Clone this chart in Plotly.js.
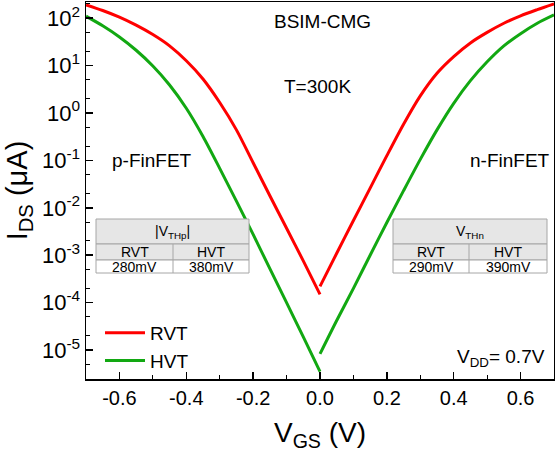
<!DOCTYPE html>
<html><head><meta charset="utf-8">
<script src="https://cdn.plot.ly/plotly-3.0.1.min.js"></script>
<style>body{margin:0;padding:0;background:#fff}#c{width:555px;height:455px}</style>
</head><body><div id="c"></div>
<script>
// ---- data ----
const vgsP = [-0.70,-0.65,-0.60,-0.55,-0.50,-0.45,-0.40,-0.35,-0.30,-0.25,-0.20,-0.15,-0.10,-0.05,0.00];
const vgsN = [0.00,0.05,0.10,0.15,0.20,0.25,0.30,0.35,0.40,0.45,0.50,0.55,0.60,0.65,0.70];
const rvtP = [190,145,105,71,45,26,12.6,5.2,1.66,0.44,0.089,0.018,3.7e-3,7.6e-4,1.5e-4];
const rvtN = [2.2e-4,1.1e-3,5.4e-3,0.026,0.126,0.58,2.3,6.9,15.5,30,50,78,112,151,200];
const hvtP = [110,69,40,21,9.8,3.9,1.26,0.32,0.068,0.0138,2.75e-3,5.2e-4,1.0e-4,1.9e-5,3.5e-6];
const hvtN = [8.3e-6,4.2e-5,2.0e-4,1.0e-3,4.9e-3,0.023,0.105,0.44,1.6,4.8,12,26,47,78,117];
const seriesNames = ['RVT','HVT'];
const xTickVals = [-0.6,-0.4,-0.2,0.0,0.2,0.4,0.6];
const xTickText = ['-0.6','-0.4','-0.2','0.0','0.2','0.4','0.6'];
const yTickVals = [1e-5,1e-4,1e-3,1e-2,1e-1,1e0,1e1,1e2];
const yTickText = ['10<sup>-5</sup>','10<sup>-4</sup>','10<sup>-3</sup>','10<sup>-2</sup>','10<sup>-1</sup>','10<sup>0</sup>','10<sup>1</sup>','10<sup>2</sup>'];
const pTableHead = '|V<sub>THp</sub>|';
const nTableHead = 'V<sub>THn</sub>';
const tableCols = ['RVT','HVT'];
const pVth = ['280mV','380mV'];
const nVth = ['290mV','390mV'];

// ---- layout geometry ----
const W = 555, Hh = 455, mL = 86, mR = 1, mT = 2, mB = 76;
const PW = W - mL - mR, PH = Hh - mT - mB;
const px = x => (x - mL) / PW;
const py = y => (Hh - mB - y) / PH;
const FONT = 'Liberation Sans, Arial, sans-serif';
const RED = '#ff0000', GREEN = '#12a812';

function join(a, b){ return a.concat([null], b); }

const traces = [
  {x: join(vgsP, vgsN), y: join(rvtP, rvtN), name: seriesNames[0], mode: 'lines',
   connectgaps: false, line: {color: RED, width: 3, shape: 'spline', smoothing: 0.8}},
  {x: join(vgsP, vgsN), y: join(hvtP, hvtN), name: seriesNames[1], mode: 'lines',
   connectgaps: false, line: {color: GREEN, width: 3, shape: 'spline', smoothing: 0.8}}
];

const shapes = [], annotations = [];
function table(x0, x1, xm, y0, y1, y2, y3, head, vals){
  const border = '#a6a6a6', fillH = '#e6e6e6';
  shapes.push({type:'rect', xref:'paper', yref:'paper', x0:px(x0), x1:px(x1), y0:py(y1), y1:py(y0), fillcolor:fillH, line:{color:border, width:1}, layer:'above'});
  shapes.push({type:'rect', xref:'paper', yref:'paper', x0:px(x0), x1:px(x1), y0:py(y2), y1:py(y1), fillcolor:fillH, line:{color:border, width:1}, layer:'above'});
  shapes.push({type:'rect', xref:'paper', yref:'paper', x0:px(x0), x1:px(x1), y0:py(y3), y1:py(y2), fillcolor:'#ffffff', line:{color:border, width:1}, layer:'above'});
  shapes.push({type:'line', xref:'paper', yref:'paper', x0:px(xm), x1:px(xm), y0:py(y3), y1:py(y1), line:{color:border, width:1}, layer:'above'});
  const f = {family: FONT, size: 14, color: '#000'};
  annotations.push({xref:'paper', yref:'paper', x:px((x0+x1)/2), y:py((y0+y1)/2), text:head, showarrow:false, font:f, xanchor:'center', yanchor:'middle'});
  annotations.push({xref:'paper', yref:'paper', x:px((x0+xm)/2), y:py((y1+y2)/2), text:tableCols[0], showarrow:false, font:f, xanchor:'center', yanchor:'middle'});
  annotations.push({xref:'paper', yref:'paper', x:px((xm+x1)/2), y:py((y1+y2)/2), text:tableCols[1], showarrow:false, font:f, xanchor:'center', yanchor:'middle'});
  annotations.push({xref:'paper', yref:'paper', x:px((x0+xm)/2), y:py((y2+y3)/2), text:vals[0], showarrow:false, font:f, xanchor:'center', yanchor:'middle'});
  annotations.push({xref:'paper', yref:'paper', x:px((xm+x1)/2), y:py((y2+y3)/2), text:vals[1], showarrow:false, font:f, xanchor:'center', yanchor:'middle'});
}
table(96, 249, 173, 219, 244, 260, 273, pTableHead, pVth);
table(393, 547, 469, 219, 244, 260, 273, nTableHead, nVth);

const tf = {family: FONT, size: 19, color: '#000'};
annotations.push({xref:'paper', yref:'paper', x:px(322), y:py(22), text:'BSIM-CMG', showarrow:false, font:tf, xanchor:'center', yanchor:'middle'});
annotations.push({xref:'paper', yref:'paper', x:px(317), y:py(86), text:'T=300K', showarrow:false, font:tf, xanchor:'center', yanchor:'middle'});
annotations.push({xref:'paper', yref:'paper', x:px(152), y:py(160), text:'p-FinFET', showarrow:false, font:tf, xanchor:'center', yanchor:'middle'});
annotations.push({xref:'paper', yref:'paper', x:px(510), y:py(160), text:'n-FinFET', showarrow:false, font:tf, xanchor:'center', yanchor:'middle'});
annotations.push({xref:'paper', yref:'paper', x:px(547), y:py(358), text:'V<sub>DD</sub>= 0.7V', showarrow:false, font:tf, xanchor:'right', yanchor:'middle'});

const layout = {
  width: W, height: Hh,
  margin: {l: mL, r: mR, t: mT, b: mB, pad: 0},
  paper_bgcolor: '#fff', plot_bgcolor: '#fff',
  font: {family: FONT, color: '#000'},
  showlegend: true,
  legend: {x: px(100), y: py(380), xanchor: 'left', yanchor: 'bottom', bgcolor: 'rgba(0,0,0,0)',
           font: {family: FONT, size: 19, color: '#000'}, itemwidth: 40, tracegroupgap: 0},
  xaxis: {range: [-0.7, 0.7], showline: true, mirror: true, linecolor: '#000', linewidth: 1.5,
          showgrid: false, zeroline: false, ticks: 'inside', ticklen: 7, tickwidth: 1.5, tickcolor: '#000',
          tickmode: 'array', tickvals: xTickVals, ticktext: xTickText,
          tickfont: {family: FONT, size: 20, color: '#000'},
          minor: {ticks: 'inside', ticklen: 4, tickwidth: 1.2, tickcolor: '#000', dtick: 0.1, tick0: 0, showgrid: false},
          title: {text: 'V<sub>GS</sub> (V)', font: {family: FONT, size: 28, color: '#000'}, standoff: 15}},
  yaxis: {type: 'log', range: [-5.61, 2.34], showline: true, mirror: true, linecolor: '#000', linewidth: 1.5,
          showgrid: false, zeroline: false, ticks: 'inside', ticklen: 7, tickwidth: 1.5, tickcolor: '#000',
          tickmode: 'array', tickvals: yTickVals, ticktext: yTickText,
          tickfont: {family: FONT, size: 22, color: '#000'},
          minor: {ticks: 'inside', ticklen: 4, tickwidth: 1, tickcolor: '#000', showgrid: false},
          title: {text: 'I<sub>DS</sub> (μA)', font: {family: FONT, size: 29, color: '#000'}, standoff: 6}},
  shapes: shapes,
  annotations: annotations
};
Plotly.newPlot('c', traces, layout, {staticPlot: true, displayModeBar: false});
</script>
</body></html>
